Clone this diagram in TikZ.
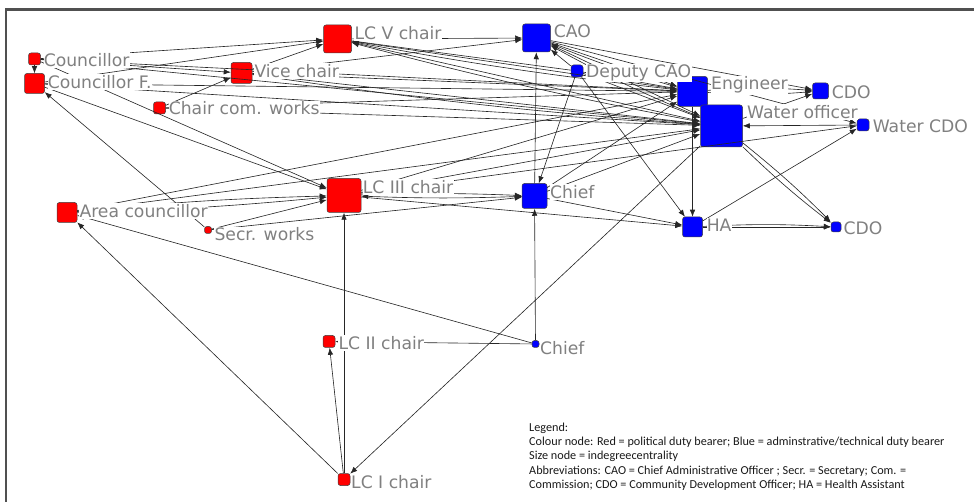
\documentclass[tikz,border=0pt]{standalone}
\usepackage{fontspec}
\newfontfamily\labfont{DejaVu Sans}
\newfontfamily\legfont{Carlito}
\usetikzlibrary{arrows.meta}
\definecolor{labgray}{RGB}{128,128,128}
\definecolor{framegray}{RGB}{80,80,80}
\begin{document}
\begin{tikzpicture}[x=1pt,y=-1pt,
  vx/.style={draw=black!75, line width=0.5pt, rounded corners=2.5pt, inner sep=0pt, minimum size=#1},
  pol/.style={vx=#1, fill=red},
  adm/.style={vx=#1, fill=blue},
  lab/.style={anchor=base west, fill=white, inner xsep=0.3pt, inner ysep=1.2pt, text=labgray,
              font=\labfont\fontsize{17.2}{18}\selectfont},
  leg/.style={anchor=base west, inner sep=0pt, text=black!90, font=\legfont\fontsize{12.2}{14}\selectfont},
  edge/.style={draw=black!85, line width=0.62pt, -{Latex[length=7pt,width=5.5pt]}},
]
\useasboundingbox (0,0) rectangle (974,502);

% frame
\draw[framegray, line width=2.5pt] (6,502) -- (6,9.5) -- (974,9.5);

% actors (size = in-degree)
\node[pol=12pt] (cou)    at (34.5,59)    {};
\node[pol=20pt] (couf)   at (34.5,83.5)  {};
\node[pol=28pt] (lcv)    at (337.5,39)   {};
\node[pol=21pt] (vice)   at (241.5,73)   {};
\node[pol=12pt] (ccw)    at (159.5,108)  {};
\node[adm=28pt] (cao)    at (536.5,38)   {};
\node[adm=12pt] (dcao)   at (577,71)     {};
\node[adm=30pt] (eng)    at (692.5,91.5) {};
\node[adm=16pt] (cdoa)   at (820.5,91)   {};
\node[adm=42pt] (wo)     at (721.5,126)  {};
\node[adm=12pt] (wcdo)   at (863,125)    {};
\node[pol=34pt] (lciii)  at (344,195.5)  {};
\node[adm=25pt] (chiefa) at (534.5,196)  {};
\node[adm=20pt] (ha)     at (692.5,227)  {};
\node[adm=10pt] (cdob)   at (836,227)    {};
\node[pol=20pt] (area)   at (67,212.5)   {};
\node[pol=7pt]  (secr)   at (208,230)    {};
\node[pol=12pt] (lcii)   at (329,341.5)  {};
\node[adm=7pt]  (chiefb) at (535.5,344)  {};
\node[pol=12pt] (lci)    at (344,479.5)  {};

% ties
\draw[edge] (cou) -- (couf);
\draw[edge] (cou) -- (lcv);
\draw[edge] (cou) -- (vice);
\draw[edge] (cou) -- (lciii);
\draw[edge] (cou) -- (eng);
\draw[edge] (cou) -- (wo);
\draw[edge] (couf) -- (lcv);
\draw[edge] (couf) -- (lciii);
\draw[edge] (couf) -- (eng);
\draw[edge] (couf) -- (wo);
\draw[edge] (secr) -- (couf);
\draw[edge] (vice) -- (lcv);
\draw[edge] (vice) -- (cao);
\draw[edge] (vice) -- (eng);
\draw[edge] (vice) -- (wo);
\draw[edge] (wo) to[bend left=2] (vice);
\draw[edge] (ccw) -- (vice);
\draw[edge] (ccw) -- (eng);
\draw[edge] (ccw) -- (wo);
\draw[edge] (lcv) -- (cao);
\draw[edge] (lcv) -- (eng);
\draw[edge] (lcv) -- (wo);
\draw[edge] (dcao) -- (lcv);
\draw[edge] (eng) to[bend left=2] (lcv);
\draw[edge] (wo) to[bend left=2] (lcv);
\draw[edge] (cao) -- (eng);
\draw[edge] (cao) -- (wo);
\draw[edge] (cao) -- (cdoa);
\draw[edge] (cao) -- (wcdo);
\draw[edge] (dcao) -- (cao);
\draw[edge] (eng) to[bend left=3] (cao);
\draw[edge] (wo) to[bend left=3] (cao);
\draw[edge] (chiefa) -- (cao);
\draw[edge] (dcao) -- (chiefa);
\draw[edge] (dcao) -- (ha);
\draw[edge] (dcao) -- (eng);
\draw[edge] (dcao) -- (wo);
\draw[edge] (eng) to[bend left=4] (cdoa);
\draw[edge] (eng) to[bend right=4] (cdoa);
\draw[edge] (wo) -- (cdoa);
\draw[edge] (wcdo) -- (wo);
\draw[edge] (lciii) -- (wcdo);
\draw[edge] (ha) -- (wcdo);
\draw[edge] (wo) to[bend left=3] (cdob);
\draw[edge] (wo) to[bend right=3] (cdob);
\draw[edge] (eng) -- (ha);
\draw[edge] (ha) to[bend left=3] (cdob);
\draw[edge] (ha) -- (cdob);
\draw[edge] (lciii) to[bend left=2] (chiefa);
\draw[edge] (chiefa) to[bend left=2] (lciii);
\draw[edge] (lciii) -- (ha);
\draw[edge] (chiefa) -- (ha);
\draw[edge] (lciii) -- (wo);
\draw[edge] (lciii) -- (eng);
\draw[edge] (chiefa) -- (eng);
\draw[edge] (chiefa) -- (wo);
\draw[edge] (area) to[bend left=2] (lciii);
\draw[edge] (area) to[bend right=2] (lciii);
\draw[edge] (area) -- (wo);
\draw[edge] (area) -- (eng);
\draw[edge] (secr) -- (lciii);
\draw[edge] (secr) -- (chiefa);
\draw[edge] (chiefb) -- (chiefa);
\draw[edge] (chiefb) -- (area);
\draw[edge] (chiefb) -- (lcii);
\draw[edge] (lci) -- (lcii);
\draw[edge] (lci) -- (lciii);
\draw[edge] (lci) -- (area);
\draw[edge] (wo) -- (lci);

% actor labels
\node[lab] (cou-l)    at (43.3,66.5)   {Councillor};
\node[lab] (couf-l)   at (47.3,88.3)   {Councillor F.};
\node[lab] (lcv-l)    at (354,39.5)    {LC V chair};
\node[lab] (vice-l)   at (254,77.5)    {Vice chair};
\node[lab] (ccw-l)    at (168.3,115)   {Chair com. works};
\node[lab] (cao-l)    at (553.3,38)    {CAO};
\node[lab] (dcao-l)   at (585.7,77.5)  {Deputy CAO};
\node[lab] (eng-l)    at (710.7,90)    {Engineer};
\node[lab] (cdoa-l)   at (831.3,98.3)  {CDO};
\node[lab] (wo-l)     at (746.7,118.5) {Water officer};
\node[lab] (wcdo-l)   at (872.3,132.3) {Water CDO};
\node[lab] (lciii-l)  at (362.3,193.3) {LC III chair};
\node[lab] (chiefa-l) at (549.7,198.3) {Chief};
\node[lab] (ha-l)     at (706.3,231.7) {HA};
\node[lab] (cdob-l)   at (843,234.3)   {CDO};
\node[lab] (area-l)   at (79,217.3)    {Area councillor};
\node[lab] (secr-l)   at (214,241)     {Secr. works};
\node[lab] (lcii-l)   at (338,349.3)   {LC II chair};
\node[lab] (chiefb-l) at (539.7,354.3) {Chief};
\node[lab] (lci-l)    at (350.7,488.3) {LC I chair};

% legend
\node[leg] (leg1) at (529,431)   {Legend:};
\node[leg] (leg2) at (529,445.5) {Colour node: Red = political duty bearer; Blue = adminstrative/technical duty bearer};
\node[leg] (leg3) at (529,459.5) {Size node = indegreecentrality};
\node[leg] (leg4) at (529,474)   {Abbreviations: CAO = Chief Administrative Officer ; Secr. = Secretary; Com. =};
\node[leg] (leg5) at (529,488)   {Commission; CDO = Community Development Officer; HA = Health Assistant};
\end{tikzpicture}
\end{document}
